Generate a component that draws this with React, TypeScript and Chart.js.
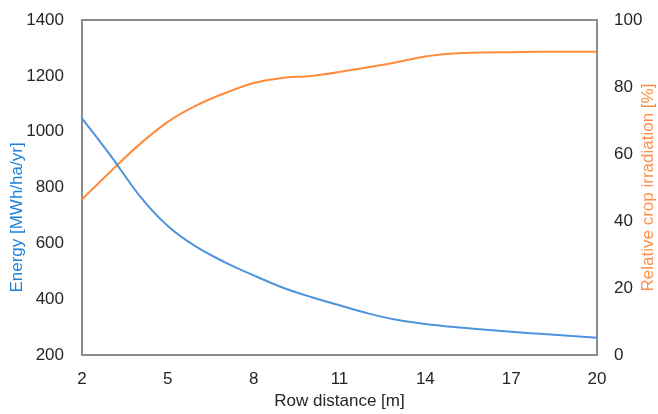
import React, { useEffect, useRef } from "react";
import { Chart, registerables } from "chart.js";

Chart.register(...registerables);

const rowDistance = [2, 3, 4, 5, 6, 7, 8, 9, 10, 11, 12, 13, 14, 15, 16, 17, 18, 19, 20];
const energy = [1048, 914, 772, 662, 587, 532, 485, 442, 408, 378, 349, 326, 311, 300, 291, 283, 276, 269, 262];
const cropIrradiation = [46.5, 54.8, 62.8, 69.6, 74.5, 78.2, 81.2, 82.7, 83.3, 84.5, 85.9, 87.4, 89.1, 90.0, 90.3, 90.4, 90.5, 90.5, 90.5];

const xTickValues = [2, 5, 8, 11, 14, 17, 20];
const energyTickValues = [200, 400, 600, 800, 1000, 1200, 1400];
const irradiationTickValues = [0, 20, 40, 60, 80, 100];

const xTitle = "Row distance [m]";
const energyTitle = "Energy [MWh/ha/yr]";
const irradiationTitle = "Relative crop irradiation [%]";

const BLUE_LINE = "#4e94dc";
const ORANGE_LINE = "#ff8a3c";
const BLUE_TEXT = "#1f80d8";
const ORANGE_TEXT = "#ff8e48";
const TICK_COLOR = "#262626";
const BORDER_COLOR = "#8c8c8c";
const FONT = "'Liberation Sans', Arial, Helvetica, sans-serif";
const FONT_SIZE = 17;

const frameAndTitles = {
  id: "frameAndTitles",
  afterDraw(chart: any) {
    const ctx = chart.ctx;
    const { top, bottom, left, right } = chart.chartArea;
    const mid = (top + bottom) / 2;
    ctx.save();
    // top border of plot frame
    ctx.strokeStyle = BORDER_COLOR;
    ctx.lineWidth = 2;
    ctx.beginPath();
    ctx.moveTo(left - 1, top);
    ctx.lineTo(right + 1, top);
    ctx.stroke();

    ctx.font = `${FONT_SIZE}px ${FONT}`;
    ctx.textAlign = "center";
    ctx.textBaseline = "middle";
    // left
    ctx.save();
    ctx.translate(17, mid + 30);
    ctx.rotate(-Math.PI / 2);
    ctx.fillStyle = BLUE_TEXT;
    ctx.fillText(energyTitle, 0, 0);
    ctx.restore();
    // right
    ctx.save();
    ctx.translate(648, mid);
    ctx.rotate(-Math.PI / 2);
    ctx.fillStyle = ORANGE_TEXT;
    ctx.fillText(irradiationTitle, 0, 0);
    ctx.restore();
    ctx.restore();
  },
};

const plain = (v: any) => String(v);

export default function App() {
  const ref = useRef<HTMLCanvasElement | null>(null);

  useEffect(() => {
    if (!ref.current) return;
    const tickFont = { size: FONT_SIZE, family: FONT };
    const chart = new Chart(ref.current, {
      type: "line",
      data: {
        datasets: [
          {
            label: "Energy",
            data: rowDistance.map((d, i) => ({ x: d, y: energy[i] })),
            borderColor: BLUE_LINE,
            borderWidth: 2,
            pointRadius: 0,
            cubicInterpolationMode: "monotone",
            yAxisID: "y",
          },
          {
            label: "Relative crop irradiation",
            data: rowDistance.map((d, i) => ({ x: d, y: cropIrradiation[i] })),
            borderColor: ORANGE_LINE,
            borderWidth: 2,
            pointRadius: 0,
            cubicInterpolationMode: "monotone",
            yAxisID: "y1",
          },
        ],
      },
      options: {
        responsive: false,
        animation: false,
        layout: { padding: { top: 20, left: 0, right: 0, bottom: 0 } },
        plugins: { legend: { display: false }, tooltip: { enabled: false } },
        scales: {
          x: {
            type: "linear",
            position: "bottom",
            min: 2,
            max: 20,
            afterBuildTicks: (s: any) => {
              s.ticks = xTickValues.map((v) => ({ value: v }));
            },
            afterFit: (s: any) => {
              s.height = 59;
              s.paddingLeft = 0;
              s.paddingRight = 0;
            },
            grid: { display: false, drawTicks: false },
            border: { display: true, color: BORDER_COLOR, width: 2 },
            ticks: { color: TICK_COLOR, font: tickFont, padding: 14, maxRotation: 0, autoSkip: false, callback: plain },
            title: { display: true, text: xTitle, color: TICK_COLOR, font: tickFont, padding: { top: 0, bottom: 2 } },
          },
          y: {
            type: "linear",
            position: "left",
            min: 200,
            max: 1400,
            afterBuildTicks: (s: any) => {
              s.ticks = energyTickValues.map((v) => ({ value: v }));
            },
            afterFit: (s: any) => {
              s.width = 82;
              s.paddingTop = 0;
              s.paddingBottom = 0;
            },
            grid: { display: false, drawTicks: false },
            border: { display: true, color: BORDER_COLOR, width: 2 },
            ticks: { color: TICK_COLOR, font: tickFont, padding: 18, callback: plain },
          },
          y1: {
            type: "linear",
            position: "right",
            min: 0,
            max: 100,
            afterBuildTicks: (s: any) => {
              s.ticks = irradiationTickValues.map((v) => ({ value: v }));
            },
            afterFit: (s: any) => {
              s.width = 61;
              s.paddingTop = 0;
              s.paddingBottom = 0;
            },
            grid: { display: false, drawTicks: false },
            border: { display: true, color: BORDER_COLOR, width: 2 },
            ticks: { color: TICK_COLOR, font: tickFont, padding: 17, callback: plain },
          },
        },
      },
      plugins: [frameAndTitles],
    } as any);
    return () => chart.destroy();
  }, []);

  return (
    <div style={{ position: "absolute", left: 0, top: 0, width: 658, height: 414, background: "#fff" }}>
      <canvas ref={ref} width={658} height={414} />
    </div>
  );
}
